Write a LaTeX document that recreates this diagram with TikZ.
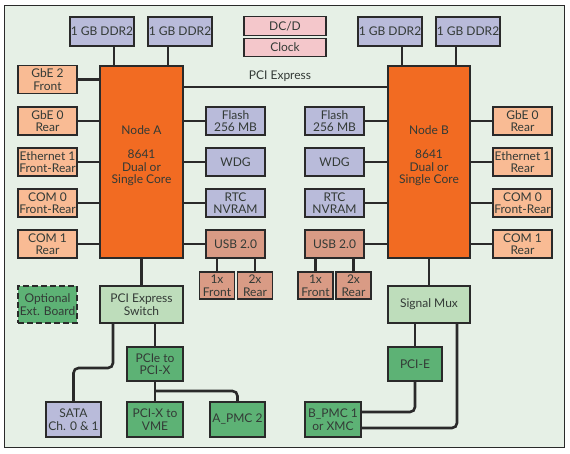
\documentclass[tikz,border=0pt]{standalone}
\usepackage{fontspec}
\setmainfont{Lato}
\usetikzlibrary{calc}
\definecolor{bgc}{HTML}{E6F0E6}
\definecolor{linec}{HTML}{2A2A2A}
\definecolor{textc}{HTML}{333A36}
\definecolor{orangec}{HTML}{F26B22}
\definecolor{peachc}{HTML}{F9BB94}
\definecolor{lavc}{HTML}{B9BBDA}
\definecolor{pinkc}{HTML}{F4C7CB}
\definecolor{usbc}{HTML}{D99B85}
\definecolor{lgreenc}{HTML}{BEDDBB}
\definecolor{greenc}{HTML}{5DB275}
\begin{document}
\begin{tikzpicture}[x=1pt,y=-1pt,
  box/.style={draw=linec, line width=1.3pt, align=center, inner sep=0pt, text=textc,
    font=\fontsize{12}{12.5}\selectfont},
  ddr/.style={box, fill=lavc, minimum width=64pt, minimum height=29pt},
  lav/.style={box, fill=lavc, minimum width=59pt, minimum height=28pt},
  peach/.style={box, fill=peachc, minimum width=59pt, minimum height=28pt},
  pink/.style={box, fill=pinkc, minimum width=82pt, minimum height=18.5pt},
  cpu/.style={box, fill=orangec, minimum width=83pt, minimum height=192pt},
  usb/.style={box, fill=usbc, minimum width=59pt, minimum height=28pt},
  usbsub/.style={box, fill=usbc, minimum width=35pt, minimum height=27pt},
  lgreen/.style={box, fill=lgreenc, minimum width=83pt, minimum height=37pt},
  green/.style={box, fill=greenc, minimum width=56pt, minimum height=34pt},
  wire/.style={draw=linec, line width=2.6pt},
  rwire/.style={wire, rounded corners=5pt}
]
\useasboundingbox (0,0) rectangle (570,454);
\fill[white] (0,0) rectangle (570,454);
\draw[draw=linec, line width=0.8pt, fill=bgc] (4,5) rectangle (564,447);

% top
\node[ddr] (ddrA1) at (102,31.5) {1 GB DDR2};
\node[ddr] (ddrA2) at (180,31.5) {1 GB DDR2};
\node[ddr] (ddrB1) at (390,31.5) {1 GB DDR2};
\node[ddr] (ddrB2) at (468,31.5) {1 GB DDR2};
\node[pink] (dcd) at (285,26) {DC/D};
\node[pink] (clock) at (285,47.5) {Clock};

% CPUs
\node[cpu] (nodeA) at (141.5,162) {};
\node[cpu, minimum width=82pt] (nodeB) at (429,162) {};
\node[text=textc, align=center, font=\fontsize{12}{12.5}\selectfont] (labA) at (141.5,156) {Node A\\[11.5pt]8641\\Dual or\\Single Core};
\node[text=textc, align=center, font=\fontsize{12}{12.5}\selectfont] (labB) at (429,156) {Node B\\[11.5pt]8641\\Dual or\\Single Core};

% left column
\node[peach] (gbe2) at (47.5,79.5) {GbE 2\\Front};
\node[peach] (gbe0A) at (47.5,121) {GbE 0\\Rear};
\node[peach] (eth1A) at (47.5,162) {Ethernet 1\\Front-Rear};
\node[peach] (com0A) at (47.5,203) {COM 0\\Front-Rear};
\node[peach] (com1A) at (47.5,244) {COM 1\\Rear};

% A right column
\node[lav] (flashA) at (235.5,121) {Flash\\256 MB};
\node[lav] (wdgA) at (235.5,162) {WDG};
\node[lav] (rtcA) at (235.5,203) {RTC\\NVRAM};
\node[usb] (usbA) at (235.5,244) {USB 2.0};
\node[usbsub] (frA) at (217,285.5) {1x\\Front};
\node[usbsub] (reA) at (255,285.5) {2x\\Rear};

% B left column
\node[lav] (flashB) at (334.5,121) {Flash\\256 MB};
\node[lav] (wdgB) at (334.5,162) {WDG};
\node[lav] (rtcB) at (334.5,203) {RTC\\NVRAM};
\node[usb] (usbB) at (334.5,244) {USB 2.0};
\node[usbsub] (frB) at (315.5,285.5) {1x\\Front};
\node[usbsub] (reB) at (353.5,285.5) {2x\\Rear};

% right column
\node[peach] (gbe0B) at (522.5,121) {GbE 0\\Rear};
\node[peach] (eth1B) at (522.5,162) {Ethernet 1\\Rear};
\node[peach] (com0B) at (522.5,203) {COM 0\\Front-Rear};
\node[peach] (com1B) at (522.5,244) {COM 1\\Rear};

% lower
\node[box, fill=greenc, dashed, dash pattern=on 6pt off 3pt, minimum width=59pt, minimum height=37pt] (opt) at (47.5,304.5) {Optional\\Ext. Board};
\node[lgreen] (sw) at (141.5,304.5) {PCI Express\\Switch};
\node[lgreen, minimum width=82pt] (mux) at (429,304.5) {Signal Mux};
\node[green] (pcix) at (155,364) {PCIe to\\PCI-X};
\node[green, minimum width=54pt] (pcie) at (415,364) {PCI-E};
\node[box, fill=lavc, minimum width=55pt, minimum height=35pt] (sata) at (73.5,419.5) {SATA\\Ch. 0 \& 1};
\node[green, minimum height=35pt] (vme) at (155,419.5) {PCI-X to\\VME};
\node[green, minimum width=55pt, minimum height=35pt] (apmc) at (237.5,419.5) {A\_PMC 2};
\node[green, minimum height=35pt] (bpmc) at (333,419.5) {B\_PMC 1\\or XMC};

% PCI Express bus
\coordinate (pciA) at (183,87);
\draw[wire] (pciA -| nodeA.east) -- (pciA -| nodeB.west);
\node[text=textc, font=\fontsize{12}{12.5}\selectfont] (pcilab) at (280,76.5) {PCI Express};

% DDR wires
\draw[wire] ([xshift=12pt]ddrA1.south) -- ([xshift=12pt]ddrA1.south |- nodeA.north);
\draw[wire] ([xshift=-12pt]ddrA2.south) -- ([xshift=-12pt]ddrA2.south |- nodeA.north);
\draw[wire] ([xshift=12pt]ddrB1.south) -- ([xshift=12pt]ddrB1.south |- nodeB.north);
\draw[wire] ([xshift=-12pt]ddrB2.south) -- ([xshift=-12pt]ddrB2.south |- nodeB.north);

% side wires A
\foreach \n in {gbe2,gbe0A,eth1A,com0A,com1A}
  \draw[wire] (\n.east) -- (\n.east -| nodeA.west);
\foreach \n in {flashA,wdgA,rtcA,usbA}
  \draw[wire] (\n.west) -- (\n.west -| nodeA.east);
\foreach \n in {flashB,wdgB,rtcB,usbB}
  \draw[wire] (\n.east) -- (\n.east -| nodeB.west);
\foreach \n in {gbe0B,eth1B,com0B,com1B}
  \draw[wire] (\n.west) -- (\n.west -| nodeB.east);

% USB subs
\draw[wire] (frA.north) -- (frA.north |- usbA.south);
\draw[wire] (reA.north) -- (reA.north |- usbA.south);
\draw[wire] (frB.north) -- (frB.north |- usbB.south);
\draw[wire] (reB.north) -- (reB.north |- usbB.south);

% lower wires A
\draw[wire] (sw.north) -- (sw.north |- nodeA.south);
\draw[wire] (pcix.north) -- (pcix.north |- sw.south);
\draw[wire] (vme.north) -- (pcix.south);
\coordinate (swl) at (113,323);
\draw[rwire] (swl |- sw.south) -- (113,368) -- (73.5,368) -- (sata.north);
\draw[rwire] (155,391) -- (237.5,391) -- (apmc.north);

% lower wires B
\draw[wire] (mux.north) -- (mux.north |- nodeB.south);
\draw[wire] (pcie.north) -- (pcie.north |- mux.south);
\draw[rwire] (pcie.south) -- (415,412) -- (bpmc.east |- 0,412);
\coordinate (muxr) at (457,323);
\draw[rwire] (muxr |- mux.south) -- (457,428) -- (bpmc.east |- 0,428);
\end{tikzpicture}
\end{document}
